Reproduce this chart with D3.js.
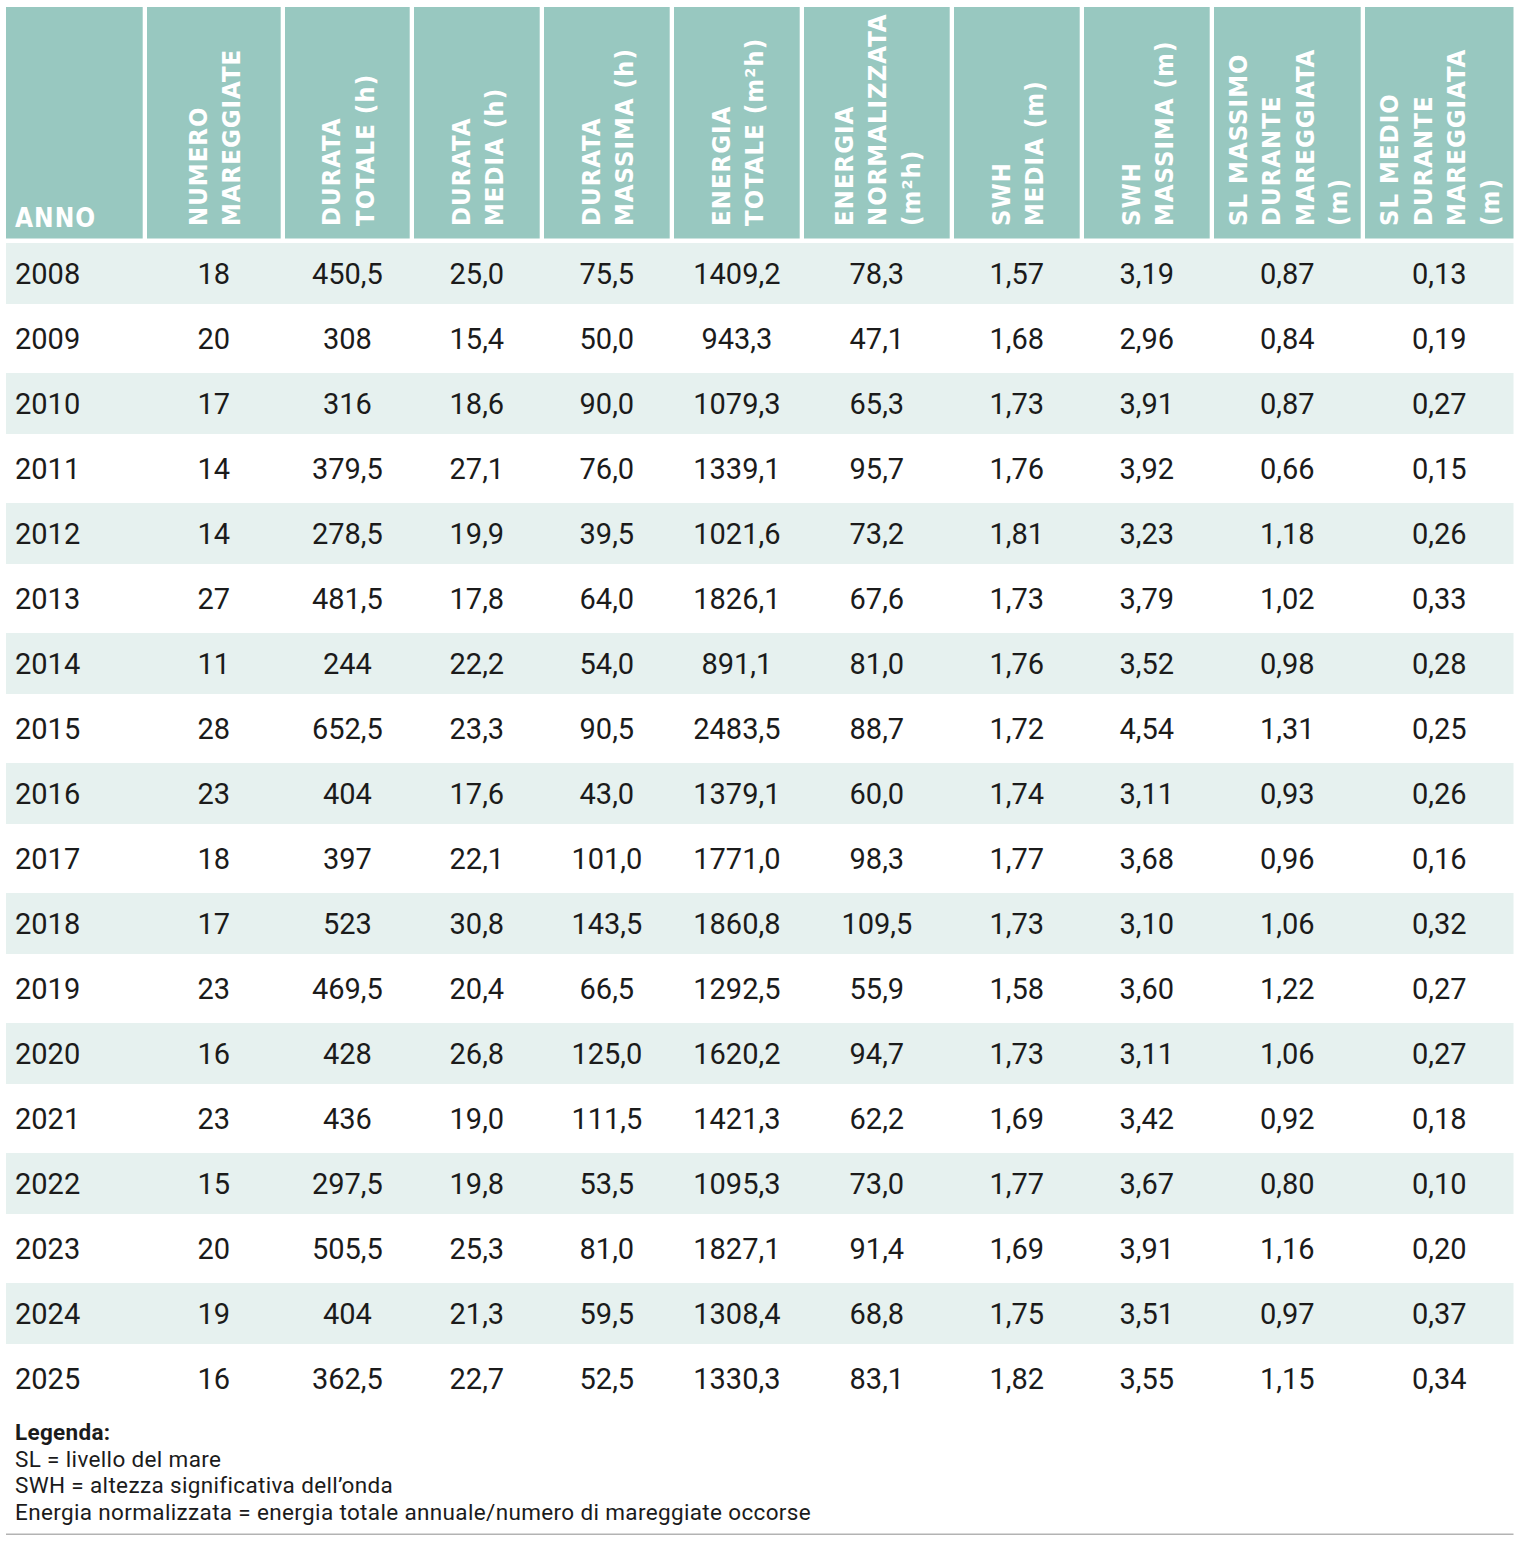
<!DOCTYPE html>
<html>
<head>
<meta charset="utf-8">
<script src="https://cdn.jsdelivr.net/npm/d3@7"></script>
<style>
  html, body { margin: 0; padding: 0; background: #ffffff; }
  svg { display: block; }
</style>
</head>
<body>
<div id="chart"></div>
<script>
// ---------------- DATA ----------------
const years = [2008,2009,2010,2011,2012,2013,2014,2015,2016,2017,2018,2019,2020,2021,2022,2023,2024,2025];
const numeroMareggiate = [18,20,17,14,14,27,11,28,23,18,17,23,16,23,15,20,19,16];
const durataTotale = [450.5,308,316,379.5,278.5,481.5,244,652.5,404,397,523,469.5,428,436,297.5,505.5,404,362.5];
const durataMedia = [25.0,15.4,18.6,27.1,19.9,17.8,22.2,23.3,17.6,22.1,30.8,20.4,26.8,19.0,19.8,25.3,21.3,22.7];
const durataMassima = [75.5,50.0,90.0,76.0,39.5,64.0,54.0,90.5,43.0,101.0,143.5,66.5,125.0,111.5,53.5,81.0,59.5,52.5];
const energiaTotale = [1409.2,943.3,1079.3,1339.1,1021.6,1826.1,891.1,2483.5,1379.1,1771.0,1860.8,1292.5,1620.2,1421.3,1095.3,1827.1,1308.4,1330.3];
const energiaNormalizzata = [78.3,47.1,65.3,95.7,73.2,67.6,81.0,88.7,60.0,98.3,109.5,55.9,94.7,62.2,73.0,91.4,68.8,83.1];
const swhMedia = [1.57,1.68,1.73,1.76,1.81,1.73,1.76,1.72,1.74,1.77,1.73,1.58,1.73,1.69,1.77,1.69,1.75,1.82];
const swhMassima = [3.19,2.96,3.91,3.92,3.23,3.79,3.52,4.54,3.11,3.68,3.10,3.60,3.11,3.42,3.67,3.91,3.51,3.55];
const slMassimo = [0.87,0.84,0.87,0.66,1.18,1.02,0.98,1.31,0.93,0.96,1.06,1.22,1.06,0.92,0.80,1.16,0.97,1.15];
const slMedio = [0.13,0.19,0.27,0.15,0.26,0.33,0.28,0.25,0.26,0.16,0.32,0.27,0.27,0.18,0.10,0.20,0.37,0.34];

const headerLabels = [
  ["ANNO"],
  ["NUMERO","MAREGGIATE"],
  ["DURATA","TOTALE (h)"],
  ["DURATA","MEDIA (h)"],
  ["DURATA","MASSIMA (h)"],
  ["ENERGIA","TOTALE (m²h)"],
  ["ENERGIA","NORMALIZZATA","(m²h)"],
  ["SWH","MEDIA (m)"],
  ["SWH","MASSIMA (m)"],
  ["SL MASSIMO","DURANTE","MAREGGIATA","(m)"],
  ["SL MEDIO","DURANTE","MAREGGIATA","(m)"]
];
const legendTitle = "Legenda:";
const legendLines = [
  "SL = livello del mare",
  "SWH = altezza significativa dell’onda",
  "Energia normalizzata = energia totale annuale/numero di mareggiate occorse"
];

// ---------------- FORMATTING ----------------
const it = d3.formatLocale({decimal: ",", thousands: "", grouping: [3], currency: ["€",""]});
const fInt = it.format("d");
const f1 = it.format(".1f");
const f2 = it.format(".2f");
const fMixed = v => Number.isInteger(v) ? fInt(v) : f1(v);

const columns = [
  {values: years, fmt: v => String(v), align: "left"},
  {values: numeroMareggiate, fmt: fInt},
  {values: durataTotale, fmt: fMixed},
  {values: durataMedia, fmt: f1},
  {values: durataMassima, fmt: f1},
  {values: energiaTotale, fmt: f1},
  {values: energiaNormalizzata, fmt: f1},
  {values: swhMedia, fmt: f2},
  {values: swhMassima, fmt: f2},
  {values: slMassimo, fmt: f2},
  {values: slMedio, fmt: f2}
];

// ---------------- LAYOUT ----------------
const W = 1524, H = 1548;
const colStarts = [6,147,285,414,544,674,804,954,1084,1214,1365];
const tableRight = 1513.5;
const colGap = 4.3;
const headerTop = 7, headerBottom = 238.5;
const rowTop = 241, rowPitch = 65;

const colIdx = d3.range(columns.length);
const xStart = d3.scaleOrdinal().domain(colIdx).range(colStarts);
const colWidth = i => (i < columns.length - 1 ? colStarts[i+1] - colGap : tableRight) - colStarts[i];

const y = d3.scaleBand()
  .domain(years)
  .range([rowTop, rowTop + rowPitch * years.length])
  .paddingInner(0).paddingOuter(0);

const headerColor = "#98c8c0";
const bandColor = "#e6f1ef";
const textColor = "#1b1b1b";
const headFont = "'DejaVu Sans Condensed', 'DejaVu Sans', sans-serif";
const bodyFont = "Roboto, 'Liberation Sans', sans-serif";
const headSize = 25.5, headSpacing = 1;

const svg = d3.select("#chart").append("svg")
  .attr("width", W).attr("height", H)
  .attr("viewBox", `0 0 ${W} ${H}`);

// Header cells
const head = svg.append("g").attr("class", "header");
head.selectAll("rect")
  .data(colIdx)
  .join("rect")
  .attr("x", i => xStart(i))
  .attr("y", headerTop)
  .attr("width", i => colWidth(i))
  .attr("height", headerBottom - headerTop)
  .attr("fill", headerColor);

// Header texts
const linePitch = 33.5, capH = 18.8, textBottom = 226;
colIdx.forEach(i => {
  const lines = headerLabels[i];
  if (i === 0) {
    head.append("text")
      .attr("x", xStart(i) + 9)
      .attr("y", 226.5)
      .attr("fill", "#ffffff")
      .attr("font-family", headFont)
      .attr("font-weight", "bold")
      .attr("font-size", 26)
      .attr("letter-spacing", headSpacing)
      .text(lines[0]);
    return;
  }
  const cx = xStart(i) + colWidth(i) / 2;
  const n = lines.length;
  const x0 = cx - ((n - 1) * linePitch - capH) / 2;
  lines.forEach((ln, k) => {
    const bx = x0 + k * linePitch;
    head.append("text")
      .attr("transform", `translate(${bx},${textBottom}) rotate(-90)`)
      .attr("fill", "#ffffff")
      .attr("font-family", headFont)
      .attr("font-weight", "bold")
      .attr("font-size", headSize)
      .attr("letter-spacing", headSpacing)
      .attr("text-anchor", "start")
      .text(ln);
  });
});

// Row bands
const body = svg.append("g").attr("class", "body");
body.selectAll("rect.band")
  .data(years.filter((d, i) => i % 2 === 0))
  .join("rect")
  .attr("class", "band")
  .attr("x", colStarts[0])
  .attr("y", d => y(d) + 2)
  .attr("width", tableRight - colStarts[0])
  .attr("height", y.bandwidth() - 4)
  .attr("fill", bandColor);

// Cell values
colIdx.forEach(i => {
  const col = columns[i];
  const left = col.align === "left";
  body.append("g").selectAll("text")
    .data(years.map((yr, r) => ({yr, v: col.values[r]})))
    .join("text")
    .attr("x", left ? xStart(i) + 9 : xStart(i) + colWidth(i) / 2)
    .attr("y", d => y(d.yr) + y.bandwidth() / 2 + 10.8)
    .attr("text-anchor", left ? "start" : "middle")
    .attr("font-family", bodyFont)
    .attr("font-size", 29)
    .attr("fill", textColor)
    .text(d => col.fmt(d.v));
});

// Legend
const legSize = 22.5, legPitch = 26.7;
const leg = svg.append("g").attr("class", "legend");
leg.append("text")
  .attr("x", 15).attr("y", 1440)
  .attr("font-family", bodyFont)
  .attr("font-weight", "bold")
  .attr("font-size", legSize)
  .attr("letter-spacing", 0.3)
  .attr("fill", textColor)
  .text(legendTitle);
leg.selectAll("text.l")
  .data(legendLines)
  .join("text")
  .attr("class", "l")
  .attr("x", 15)
  .attr("y", (d, i) => 1440 + (i + 1) * legPitch)
  .attr("font-family", bodyFont)
  .attr("font-size", legSize)
  .attr("letter-spacing", 0.35)
  .attr("fill", textColor)
  .text(d => d);

svg.append("line")
  .attr("x1", colStarts[0]).attr("x2", tableRight)
  .attr("y1", 1534.3).attr("y2", 1534.3)
  .attr("stroke", "#b3b3b3")
  .attr("stroke-width", 1.5);
</script>
</body>
</html>
